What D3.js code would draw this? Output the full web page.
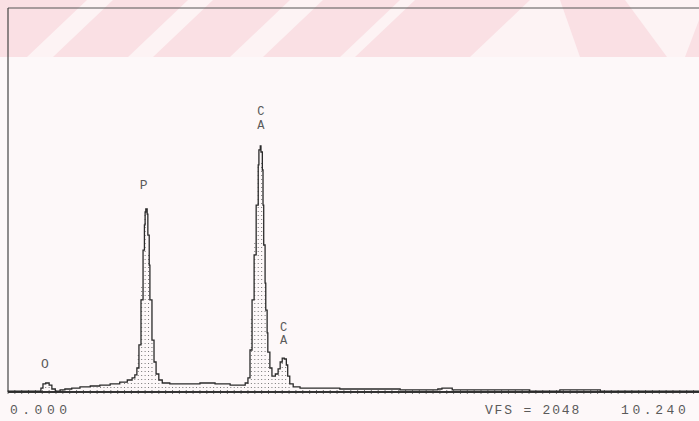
<!DOCTYPE html>
<html>
<head>
<meta charset="utf-8">
<script src="https://cdn.jsdelivr.net/npm/d3@7"></script>
<style>
  html, body { margin: 0; padding: 0; background: #fdf8f9; }
  svg { display: block; }
  .lbl { font-family: "Liberation Mono", "DejaVu Sans Mono", monospace; fill: #5a5a5a; }
</style>
</head>
<body>
<div id="chart"></div>
<script>
// energy (keV) and counts
const energies = [0, 0.44, 0.48, 0.51, 0.55, 0.60, 0.64, 0.69, 0.76, 0.83, 0.93, 1.05, 1.20, 1.34, 1.49, 1.63,
  1.74, 1.81, 1.85, 1.88, 1.91, 1.94, 1.97, 1.99, 2.00, 2.01, 2.03, 2.04, 2.06, 2.07, 2.10, 2.13, 2.16, 2.20,
  2.25, 2.36, 2.58, 2.80, 3.02, 3.24, 3.38, 3.46, 3.50, 3.53, 3.56, 3.59, 3.62, 3.65, 3.66, 3.68, 3.69, 3.71,
  3.72, 3.73, 3.75, 3.76, 3.78, 3.79, 3.82, 3.85, 3.90, 3.94, 3.97, 4.00, 4.03, 4.06, 4.08, 4.11, 4.16, 4.26,
  4.55, 4.84, 5.13, 5.43, 5.72, 6.01, 6.27, 6.33, 6.42, 6.48, 6.74, 7.18, 7.61, 8.05, 8.64, 9.22, 9.80, 10.24];
const counts = [5, 5, 21, 43, 48, 37, 16, 5, 11, 16, 21, 27, 32, 37, 43, 53,
  64, 75, 91, 128, 251, 491, 757, 891, 960, 976, 949, 837, 677, 491, 277, 160, 96, 64,
  48, 43, 43, 48, 43, 37, 37, 48, 75, 224, 491, 731, 997, 1211, 1291, 1312, 1280, 1184,
  997, 784, 581, 437, 315, 213, 128, 85, 96, 123, 160, 181, 176, 144, 85, 43, 27, 21,
  21, 16, 16, 16, 11, 11, 16, 21, 21, 11, 11, 11, 5, 11, 5, 5, 5, 5];

// peak labels: energy, stacked lines, count level of each line's baseline
const peakNames = [["O"], ["P"], ["C", "A"], ["C", "A"]];
const peakEnergies = [0.54, 1.98, 3.69, 4.02];
const peakLabelCounts = [[128], [1083], [1477, 1405], [328, 256]];

const fullScale = 2048;
const axisLabels = ["0.000", "VFS = 2048", "10.240"];

const W = 699, H = 421;
const svg = d3.select("#chart").append("svg").attr("width", W).attr("height", H);

// faint pink watermark band at the top
const band = svg.append("g");
band.append("rect").attr("x", 0).attr("y", 0).attr("width", W).attr("height", 57).attr("fill", "#fdf3f4");
const stripes = [[-60, 27], [53, 128], [153, 230], [263, 340], [355, 470]];
stripes.forEach(([a, b]) => {
  band.append("polygon")
    .attr("points", `${a},57 ${b},57 ${b + 60},0 ${a + 60},0`)
    .attr("fill", "#fae0e4");
});
band.append("polygon").attr("points", "580,57 667,57 625,0 560,0").attr("fill", "#fae0e4");
band.append("polygon").attr("points", "685,57 699,57 699,20").attr("fill", "#fae0e4");

const x = d3.scaleLinear().domain([0, 10.24]).range([8, 710]);
const y = d3.scaleLinear().domain([0, fullScale]).range([392, 8]);

const data = energies.map((e, i) => ({ e, c: counts[i] }));

// frame
svg.append("line").attr("x1", 8).attr("x2", W).attr("y1", 8).attr("y2", 8)
  .attr("stroke", "#555").attr("stroke-width", 1);
svg.append("line").attr("x1", 8).attr("x2", 8).attr("y1", 8).attr("y2", 392)
  .attr("stroke", "#444").attr("stroke-width", 1.2);

// dotted columns under the spectrum
const bis = d3.bisector((d) => d.e).right;
const countAt = (e) => {
  const i = Math.min(Math.max(bis(data, e), 1), data.length - 1);
  const a = data[i - 1], b = data[i];
  const t = (e - a.e) / (b.e - a.e);
  return a.c + (b.c - a.c) * t;
};
const cols = d3.range(0.05, 10.24, 0.05);
svg.append("g").selectAll("line").data(cols).enter().append("line")
  .attr("x1", (d) => x(d)).attr("x2", (d) => x(d))
  .attr("y1", y(0)).attr("y2", (d) => y(countAt(d)) + 2)
  .attr("stroke", "#666").attr("stroke-width", 0.9).attr("stroke-dasharray", "1,3");

// baseline ticks
svg.append("g").selectAll("line").data(d3.range(0, 10.25, 0.1)).enter().append("line")
  .attr("x1", (d) => x(d)).attr("x2", (d) => x(d))
  .attr("y1", 390).attr("y2", 394).attr("stroke", "#555").attr("stroke-width", 0.8);

// baseline
svg.append("line").attr("x1", 8).attr("x2", W).attr("y1", 392).attr("y2", 392)
  .attr("stroke", "#333").attr("stroke-width", 1.8);

// spectrum trace
const line = d3.line().x((d) => x(d.e)).y((d) => y(d.c)).curve(d3.curveStepAfter);
svg.append("path").datum(data).attr("d", line)
  .attr("fill", "none").attr("stroke", "#2a2a2a").attr("stroke-width", 1.3);

// peak labels
peakNames.forEach((lines, i) => {
  lines.forEach((ch, j) => {
    svg.append("text").attr("class", "lbl")
      .attr("x", x(peakEnergies[i])).attr("y", y(peakLabelCounts[i][j]))
      .attr("text-anchor", "middle").attr("font-size", lines.length > 1 ? 12 : 13)
      .text(ch);
  });
});

// bottom readouts
svg.append("text").attr("class", "lbl").attr("x", 10).attr("y", 414)
  .attr("font-size", 13).attr("letter-spacing", 4.5).attr("fill", "#666").text(axisLabels[0]);
svg.append("text").attr("class", "lbl").attr("x", 485).attr("y", 414)
  .attr("font-size", 13).attr("letter-spacing", 1.8).attr("fill", "#666").text(axisLabels[1]);
svg.append("text").attr("class", "lbl").attr("x", 621).attr("y", 414)
  .attr("font-size", 13).attr("letter-spacing", 3.6).attr("fill", "#666").text(axisLabels[2]);
</script>
</body>
</html>
